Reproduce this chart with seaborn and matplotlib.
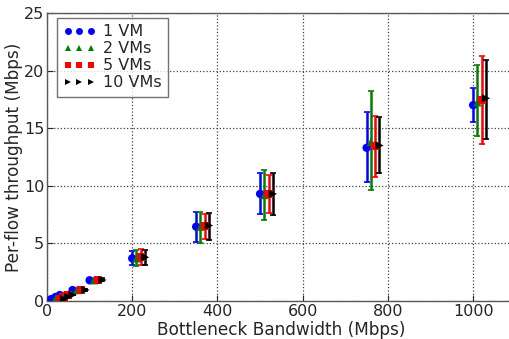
import matplotlib
matplotlib.use("Agg")
import matplotlib.pyplot as plt
from matplotlib.lines import Line2D
import seaborn as sns
import pandas as pd

# ---- data ----
bandwidth = [10, 20, 30, 60, 100, 200, 350, 500, 750, 1000]
series_names = ["1 VM", "2 VMs", "5 VMs", "10 VMs"]

vm1 = [0.17, 0.35, 0.52, 0.95, 1.80, 3.70, 6.45, 9.30, 13.30, 17.00]
vm1_lo = [0.15, 0.32, 0.48, 0.90, 1.70, 3.10, 5.10, 7.55, 10.30, 15.50]
vm1_hi = [0.19, 0.38, 0.56, 1.00, 1.95, 4.30, 7.75, 11.10, 16.40, 18.50]

vm2 = [0.17, 0.35, 0.52, 0.95, 1.80, 3.70, 6.45, 9.20, 13.80, 17.25]
vm2_lo = [0.15, 0.32, 0.48, 0.90, 1.70, 3.00, 5.00, 7.00, 9.60, 14.30]
vm2_hi = [0.19, 0.38, 0.56, 1.00, 1.95, 4.40, 7.75, 11.40, 18.20, 20.50]

vm5 = [0.17, 0.35, 0.53, 0.96, 1.82, 3.80, 6.50, 9.30, 13.45, 17.45]
vm5_lo = [0.15, 0.32, 0.48, 0.90, 1.70, 3.10, 5.35, 7.67, 10.80, 13.60]
vm5_hi = [0.19, 0.38, 0.57, 1.02, 1.97, 4.50, 7.55, 10.90, 16.10, 21.30]

vm10 = [0.18, 0.35, 0.53, 0.96, 1.82, 3.80, 6.55, 9.30, 13.50, 17.60]
vm10_lo = [0.16, 0.32, 0.48, 0.90, 1.70, 3.10, 5.30, 7.44, 11.10, 14.10]
vm10_hi = [0.20, 0.38, 0.57, 1.02, 1.97, 4.40, 7.67, 11.10, 16.00, 20.90]

x_ticks = [0, 200, 400, 600, 800, 1000]
y_ticks = [0, 5, 10, 15, 20, 25]

colors = ["#0000ff", "#007f00", "#ff0000", "#000000"]
markers = ["o", "^", "s", ">"]
dodge = 10  # horizontal shift between series (Mbps)

sns.set_style("white")
plt.rcParams["font.family"] = ["DejaVu Sans"]

fig = plt.figure(figsize=(5.09, 3.39), dpi=100)
ax = fig.add_axes([47 / 509, 38 / 339, 0.921, 288 / 339])

values = [vm1, vm2, vm5, vm10]
lows = [vm1_lo, vm2_lo, vm5_lo, vm10_lo]
highs = [vm1_hi, vm2_hi, vm5_hi, vm10_hi]

rows = []
for i, name in enumerate(series_names):
    for b, v, lo, hi in zip(bandwidth, values[i], lows[i], highs[i]):
        rows.append({"series": name, "x": b + i * dodge, "y": v, "lo": lo, "hi": hi})
df = pd.DataFrame(rows)

for i, name in enumerate(series_names):
    d = df[df["series"] == name]
    ax.errorbar(d["x"], d["y"], yerr=[d["y"] - d["lo"], d["hi"] - d["y"]],
                fmt="none", ecolor=colors[i], elinewidth=1.8, capsize=2,
                capthick=1.2, zorder=2)

sns.scatterplot(data=df, x="x", y="y", hue="series", style="series",
                palette=dict(zip(series_names, colors)),
                markers=dict(zip(series_names, markers)),
                s=36, edgecolor="none", legend=False, ax=ax, zorder=3)

ax.set_xlim(0, 1100)
ax.set_ylim(0, 25)
ax.set_xticks(x_ticks)
ax.set_yticks(y_ticks)
ax.grid(True, linestyle=":", color="0.25", linewidth=0.9)
ax.tick_params(direction="in", length=4, labelsize=11.5, pad=2,
               left=True, bottom=True)
for sp in ax.spines.values():
    sp.set_color("0.35")
    sp.set_linewidth(1.0)

ax.set_xlabel("Bottleneck Bandwidth (Mbps)", fontsize=12.2, labelpad=1.5)
ax.set_ylabel("Per-flow throughput (Mbps)", fontsize=12.2, labelpad=0.5)

handles = [Line2D([], [], linestyle="none", marker=m, color=c,
                  markersize=5, markeredgewidth=0)
           for m, c in zip(markers, colors)]
leg = ax.legend(handles, series_names, loc="upper left",
                bbox_to_anchor=(10 / 468.8, 1 - 5 / 288), borderaxespad=0,
                numpoints=3, fontsize=11.5, frameon=True, fancybox=False,
                handlelength=2.0, handletextpad=0.5,
                labelspacing=0.12, borderpad=0.4)
leg.get_frame().set_edgecolor("0.3")
leg.get_frame().set_linewidth(1.0)

fig.savefig("out.png", dpi=100)
